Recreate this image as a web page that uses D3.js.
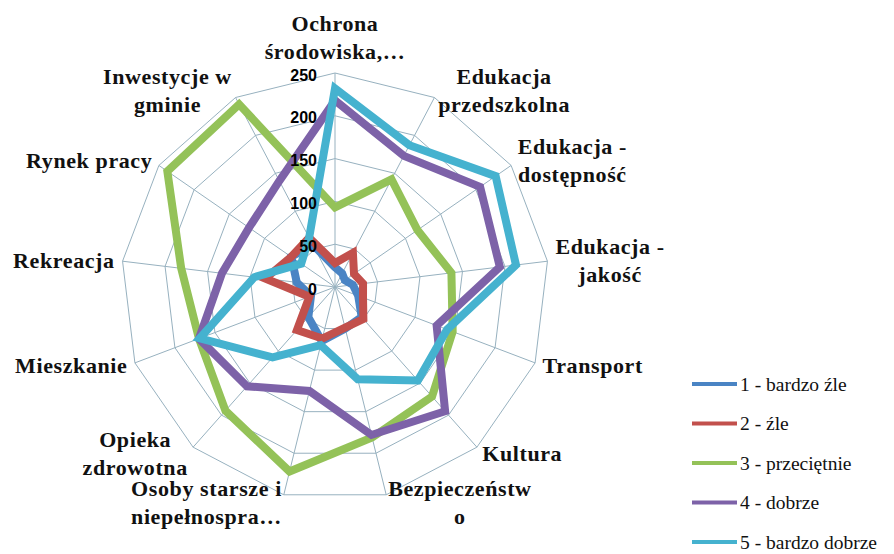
<!DOCTYPE html>
<html>
<head>
<meta charset="utf-8">
<script src="https://cdn.jsdelivr.net/npm/d3@7"></script>
<style>
  body { margin: 0; background: #fff; }
</style>
</head>
<body>
<div class="d3"></div>
<script>
// category labels (already split into lines as in the picture)
const categories = [
  ['Ochrona', 'środowiska,…'],
  ['Edukacja', 'przedszkolna'],
  ['Edukacja -', 'dostępność'],
  ['Edukacja -', 'jakość'],
  ['Transport'],
  ['Kultura'],
  ['Bezpieczeństw', 'o'],
  ['Osoby starsze i', 'niepełnospra…'],
  ['Opieka', 'zdrowotna'],
  ['Mieszkanie'],
  ['Rekreacja'],
  ['Rynek pracy'],
  ['Inwestycje w', 'gminie']
];

const seriesNames = ['1 - bardzo źle', '2 - źle', '3 - przeciętnie', '4 - dobrze', '5 - bardzo dobrze'];
const seriesColors = ['#4a84c4', '#c2504c', '#94c258', '#7d62a8', '#45b2cf'];

const bardzoZle    = [23, 18, 14, 21, 29, 47, 50, 65, 47, 30, 45, 62, 56];
const zle          = [28, 45, 27, 33, 35, 50, 49, 62, 67, 32, 82, 62, 65];
const przecietnie  = [93, 142, 117, 137, 147, 171, 181, 222, 193, 170, 181, 238, 241];
const dobrze       = [218, 173, 206, 194, 127, 194, 178, 125, 155, 170, 133, 122, 140];
const bardzoDobrze = [232, 187, 228, 213, 140, 146, 111, 70, 110, 169, 95, 48, 65];

const ticks = [0, 50, 100, 150, 200, 250];

(() => {
  let width = 894;
  let height = 554;
  let cx = 335;
  let cy = 287;
  let radius = 214;
  let series = [bardzoZle, zle, przecietnie, dobrze, bardzoDobrze];

  let svg = d3
    .select('.d3')
    .append('svg')
    .attr('width', width)
    .attr('height', height);

  let r = d3.scaleLinear().domain([0, 250]).range([0, radius]);
  let angle = d3
    .scaleLinear()
    .domain([0, categories.length])
    .range([0, 2 * Math.PI]);

  let g = svg.append('g').attr('transform', `translate(${cx},${cy})`);

  // grid rings
  let ring = d3
    .lineRadial()
    .angle((d, i) => angle(i))
    .radius(d => r(d))
    .curve(d3.curveLinearClosed);

  g
    .selectAll('path.ring')
    .data(ticks.slice(1))
    .enter()
    .append('path')
    .attr('class', 'ring')
    .attr('fill', 'none')
    .attr('stroke', '#97b1bf')
    .attr('stroke-width', 1)
    .attr('d', t => ring(categories.map(() => t)));

  // spokes
  g
    .selectAll('line.spoke')
    .data(categories)
    .enter()
    .append('line')
    .attr('class', 'spoke')
    .attr('x1', 0)
    .attr('y1', 0)
    .attr('x2', (d, i) => Math.sin(angle(i)) * r(250))
    .attr('y2', (d, i) => -Math.cos(angle(i)) * r(250))
    .attr('stroke', '#97b1bf')
    .attr('stroke-width', 1);

  // series
  let line = d3
    .lineRadial()
    .angle((d, i) => angle(i))
    .radius(d => r(d))
    .curve(d3.curveLinearClosed);

  g
    .selectAll('path.series')
    .data(series)
    .enter()
    .append('path')
    .attr('class', 'series')
    .attr('fill', 'none')
    .attr('stroke', (d, i) => seriesColors[i])
    .attr('stroke-width', 8)
    .attr('stroke-linejoin', 'miter')
    .attr('d', line);

  // tick labels
  g
    .selectAll('text.tick')
    .data(ticks)
    .enter()
    .append('text')
    .attr('class', 'tick')
    .attr('x', -18)
    .attr('y', t => -r(t) + 2)
    .attr('text-anchor', 'end')
    .attr('dominant-baseline', 'central')
    .attr('font-family', 'Liberation Sans, Arial, sans-serif')
    .attr('font-weight', 'bold')
    .attr('font-size', 16)
    .attr('fill', '#000')
    .text(t => t);

  // category labels
  let lineHeight = 28;
  categories.forEach((lines, i) => {
    let a = angle(i);
    let s = Math.sin(a);
    let c = Math.cos(a);
    let px = s * (radius + 8);
    let py = -c * (radius + 8);
    let lab = g.append('g');
    let texts = lines.map((txt, j) => {
      let y;
      if (Math.abs(s) < 0.05) {
        y = py - (lines.length - j - 0.5) * lineHeight;
      } else {
        y = py + (j - (lines.length - 1) / 2) * lineHeight;
      }
      return lab
        .append('text')
        .attr('y', y)
        .attr('text-anchor', 'middle')
        .attr('dominant-baseline', 'central')
        .attr('font-family', 'Liberation Serif, Times New Roman, serif')
        .attr('font-weight', 'bold')
        .attr('font-size', 22)
        .attr('letter-spacing', 0.6)
        .attr('fill', '#111')
        .text(txt);
    });
    let w = d3.max(texts, t => t.node().getComputedTextLength());
    let x = px;
    if (s > 0.05) x = px + w / 2;
    if (s < -0.05) x = px - w / 2;
    texts.forEach(t => t.attr('x', x));
  });

  // legend
  let legend = svg
    .selectAll('g.legend')
    .data(seriesNames)
    .enter()
    .append('g')
    .attr('class', 'legend')
    .attr('transform', (d, i) => `translate(692,${384 + i * 39.5})`);

  legend
    .append('line')
    .attr('x1', 0)
    .attr('x2', 45)
    .attr('y1', 0)
    .attr('y2', 0)
    .attr('stroke', (d, i) => seriesColors[i])
    .attr('stroke-width', 4);

  legend
    .append('text')
    .attr('x', 48)
    .attr('y', 0)
    .attr('dominant-baseline', 'central')
    .attr('font-family', 'Liberation Serif, Times New Roman, serif')
    .attr('font-size', 19.5)
    .attr('fill', '#111')
    .text(d => d);
})();
</script>
</body>
</html>
